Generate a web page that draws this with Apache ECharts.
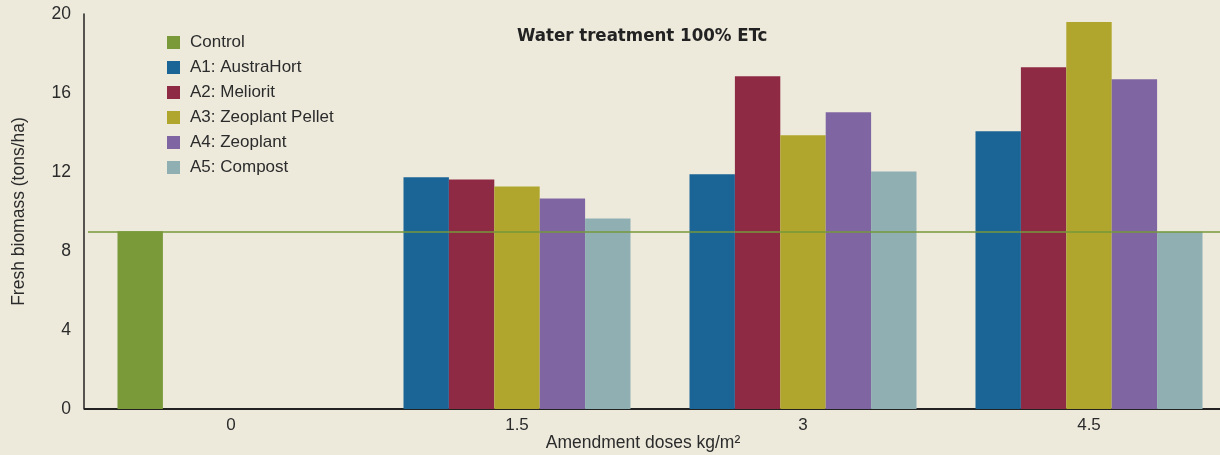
<!DOCTYPE html>
<html>
<head>
<meta charset="utf-8">
<script src="https://cdn.jsdelivr.net/npm/echarts@6/dist/echarts.min.js"></script>
<style>
  html, body { margin: 0; padding: 0; background: #edeadc; }
  #chart { width: 1220px; height: 455px; }
</style>
</head>
<body>
<div id="chart"></div>
<script>
// 剂量分类
let doses = ["0", "1.5", "3", "4.5"];
// 各处理的鲜重 (tons/ha)
let control = [9, null, null, null];
let austraHort = [null, 11.73, 11.88, 14.06];
let meliorit = [null, 11.62, 16.85, 17.31];
let zeoPellet = [null, 11.27, 13.86, 19.59];
let zeoplant = [null, 10.66, 15.03, 16.7];
let compost = [null, 9.64, 12.03, 8.98];
// 对照水平线
let controlLevel = 9;
// y轴刻度
let yMin = 0, yMax = 20, yStep = 4;

let FONT = "'Liberation Sans', Arial, sans-serif";
let TXT = "#2b2b2b";

function barSeries(name, data, color, extra) {
  return Object.assign({
    name: name,
    type: "bar",
    data: data,
    barWidth: 45.4,
    barGap: "0%",
    itemStyle: { color: color },
    emphasis: { disabled: true }
  }, extra || {});
}

let option = {
  backgroundColor: "#edeadc",
  animation: false,
  title: {
    text: "Water treatment 100% ETc",
    left: 512,
    top: 22,
    textStyle: {
      fontFamily: "'Liberation Sans Narrow', 'DejaVu Sans Condensed', sans-serif",
      fontWeight: "bold",
      fontSize: 18.5,
      color: "#222"
    }
  },
  legend: {
    orient: "vertical",
    left: 162,
    top: 29,
    itemWidth: 13,
    itemHeight: 13,
    itemGap: 8,
    icon: "rect",
    data: ["Control", "A1: AustraHort", "A2: Meliorit", "A3: Zeoplant Pellet", "A4: Zeoplant", "A5: Compost"],
    textStyle: { fontFamily: FONT, fontSize: 17, color: TXT, padding: [0, 0, 0, 5] }
  },
  grid: { left: 88, top: 14, width: 1144, height: 395, containLabel: false, outerBoundsMode: "none" },
  xAxis: {
    type: "category",
    data: doses,
    axisLine: { lineStyle: { color: "#222", width: 2 } },
    axisTick: { show: false },
    axisLabel: { fontFamily: FONT, fontSize: 17, color: TXT, margin: 8 },
    name: "Amendment doses kg/m²",
    nameLocation: "middle",
    nameGap: 25,
    nameMoveOverlap: false,
    nameTextStyle: { fontFamily: FONT, fontSize: 17.5, color: TXT, padding: [0, 34, 0, 0] }
  },
  yAxis: {
    type: "value",
    min: yMin,
    max: yMax,
    interval: yStep,
    offset: 4,
    axisLine: { show: true, lineStyle: { color: "#222", width: 1.5 } },
    axisTick: { show: false },
    splitLine: { show: false },
    axisLabel: { fontFamily: FONT, fontSize: 17.5, color: TXT, margin: 13 },
    name: "Fresh biomass (tons/ha)",
    nameLocation: "middle",
    nameGap: 56,
    nameTextStyle: { fontFamily: FONT, fontSize: 17.5, color: TXT }
  },
  series: [
    barSeries("Control", control, "#7a9a3a", {
      stack: "g1",
      z: 5,
      markLine: {
        silent: true,
        symbol: "none",
        label: { show: false },
        lineStyle: { color: "#76993a", width: 1.5, type: "solid", opacity: 1 },
        data: [{ yAxis: controlLevel }]
      }
    }),
    barSeries("A1: AustraHort", austraHort, "#1a6496", { stack: "g1" }),
    barSeries("A2: Meliorit", meliorit, "#8f2a45"),
    barSeries("A3: Zeoplant Pellet", zeoPellet, "#b0a62d"),
    barSeries("A4: Zeoplant", zeoplant, "#7f66a2"),
    barSeries("A5: Compost", compost, "#8fafb2")
  ],
  graphic: [{
    type: "line",
    shape: { x1: 84, y1: 409, x2: 89, y2: 409 },
    style: { stroke: "#222", lineWidth: 2 }
  }]
};

let chart = echarts.init(document.getElementById("chart"));
chart.setOption(option);
</script>
</body>
</html>
